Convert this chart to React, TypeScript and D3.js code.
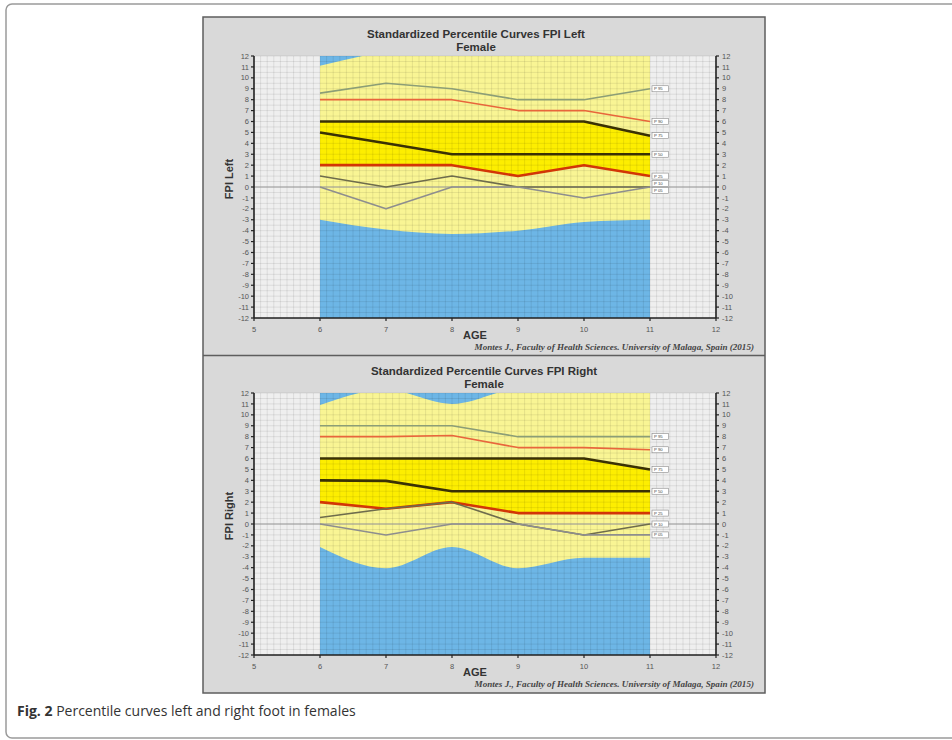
import React from 'react';
import * as d3 from 'd3';

// ages with measured percentiles
const ages = [6, 7, 8, 9, 10, 11];
const ageTicks = [5, 6, 7, 8, 9, 10, 11, 12];
const pctNames = ['P 95', 'P 90', 'P 75', 'P 50', 'P 25', 'P 10', 'P 05'];

// FPI Left, female
const leftP95 = [8.6, 9.5, 9, 8, 8, 9];
const leftP90 = [8, 8, 8, 7, 7, 6];
const leftP75 = [6, 6, 6, 6, 6, 4.7];
const leftP50 = [5, 4, 3, 3, 3, 3];
const leftP25 = [2, 2, 2, 1, 2, 1];
const leftP10 = [1, 0, 1, 0, 0, 0];
const leftP05 = [0, -2, 0, 0, -1, 0];
const leftUpper = [11.1, 12.4, 13, 13, 13, 13];
const leftLower = [-3, -3.9, -4.3, -4, -3.2, -3];

// FPI Right, female
const rightP95 = [9, 9, 9, 8, 8, 8];
const rightP90 = [8, 8, 8.1, 7, 7, 6.8];
const rightP75 = [6, 6, 6, 6, 6, 5];
const rightP50 = [4, 3.95, 3, 3, 3, 3];
const rightP25 = [2, 1.4, 2, 1, 1, 1];
const rightP10 = [0.6, 1.4, 2, 0, -1, 0];
const rightP05 = [0, -1, 0, 0, -1, -1];
const rightUpper = [10.9, 12.3, 11, 12.4, 12.6, 12.6];
const rightLower = [-2.1, -4.05, -2.1, -4.05, -3.1, -3.1];

const pctColors = ['#8c9e76', '#e8663c', '#3a3104', '#3a3104', '#d23606', '#6e6c4c', '#8e8e8e'];
const pctWidths = [1.6, 1.6, 2.6, 2.6, 2.6, 1.6, 1.6];

const x = d3.scaleLinear().domain([5, 12]).range([254, 716]);

function Panel({ top, title, titleX, yLabel, series, upper, lower }) {
  const y = d3.scaleLinear().domain([-12, 12]).range([top + 262, top]);
  const yTicks = y.ticks(24);
  const clipId = 'clip' + top;

  const line = d3.line<number>().x((d, i) => x(ages[i])).y(d => y(d));
  const band = d3.area<number>()
    .x((d, i) => x(ages[i]))
    .y0((d, i) => y(lower[i]))
    .y1((d, i) => y(upper[i]))
    .curve(d3.curveMonotoneX);
  const core = d3.area<number>()
    .x((d, i) => x(ages[i]))
    .y0((d, i) => y(series[4][i]))
    .y1((d, i) => y(series[2][i]));

  // label positions at the right end, pushed apart when they collide
  const labels = series.map((s, i) => ({ name: pctNames[i], y: y(s[s.length - 1]) }));
  const sorted = [...labels].sort((a, b) => a.y - b.y);
  const gap = 6.8;
  for (let k = 0; k < 60; k++) {
    for (let i = 1; i < sorted.length; i++) {
      const d = sorted[i].y - sorted[i - 1].y;
      if (d < gap) {
        const m = (gap - d) / 2;
        sorted[i].y += m;
        sorted[i - 1].y -= m;
      }
    }
  }

  const vGrid = d3.range(50, 121).map(v => v / 10);
  const hGrid = d3.range(-24, 25).map(v => v / 2);
  const x0 = x(5), x1 = x(12), yTop = y(12), yBot = y(-12);

  return (
    <g>
      <text x={titleX} y={top - 18} textAnchor="middle" fontFamily="Liberation Sans, Arial" fontWeight="bold" fontSize={11.5} fill="#333">{title}</text>
      <text x={titleX} y={top - 5} textAnchor="middle" fontFamily="Liberation Sans, Arial" fontWeight="bold" fontSize={11.5} fill="#333">Female</text>

      <clipPath id={clipId}>
        <rect x={x0} y={yTop} width={x1 - x0} height={yBot - yTop} />
      </clipPath>

      <rect x={x0} y={yTop} width={x1 - x0} height={yBot - yTop} fill="#efefef" />
      <rect x={x(6)} y={yTop} width={x(11) - x(6)} height={yBot - yTop} fill="#6db6e6" />
      <g clipPath={`url(#${clipId})`}>
        <path d={band(ages) || ''} fill="#f9f594" />
        <path d={core(ages) || ''} fill="#fdee00" />
      </g>

      <g stroke="#000" strokeOpacity={0.14} strokeWidth={0.6}>
        {vGrid.map(v => <line key={'v' + v} x1={x(v)} x2={x(v)} y1={yTop} y2={yBot} />)}
        {hGrid.map(v => <line key={'h' + v} x1={x0} x2={x1} y1={y(v)} y2={y(v)} />)}
      </g>
      <line x1={x0} x2={x1} y1={y(0)} y2={y(0)} stroke="#9a9a9a" strokeWidth={1} />

      {series.map((s, i) => (
        <path key={i} d={line(s) || ''} fill="none" stroke={pctColors[i]} strokeWidth={pctWidths[i]} strokeLinejoin="round" />
      ))}

      {labels.map(l => (
        <g key={l.name}>
          <rect x={x(11) + 2} y={l.y - 3} width={16.5} height={6} fill="#fff" stroke="#8a8a8a" strokeWidth={0.6} />
          <text x={x(11) + 4} y={l.y + 1.5} fontFamily="Liberation Sans, Arial" fontSize={4.3} fill="#444">{l.name}</text>
        </g>
      ))}

      {/* axes */}
      <g fontFamily="Liberation Sans, Arial" fontSize={7.5} fill="#555">
        <line x1={x0} x2={x0} y1={yTop} y2={yBot} stroke="#222" strokeWidth={1.6} />
        <line x1={x1} x2={x1} y1={yTop} y2={yBot} stroke="#222" strokeWidth={1.6} />
        <line x1={x0} x2={x1} y1={yBot} y2={yBot} stroke="#222" strokeWidth={1.6} />
        {yTicks.map(t => (
          <g key={'yt' + t}>
            <line x1={x0 - 3} x2={x0} y1={y(t)} y2={y(t)} stroke="#222" strokeWidth={1.2} />
            <text x={x0 - 5} y={y(t) + 2.6} textAnchor="end">{t}</text>
            <line x1={x1} x2={x1 + 3} y1={y(t)} y2={y(t)} stroke="#222" strokeWidth={1.2} />
            <text x={x1 + 6} y={y(t) + 2.6}>{t}</text>
          </g>
        ))}
        {ageTicks.map(t => (
          <g key={'xt' + t}>
            <line x1={x(t)} x2={x(t)} y1={yBot} y2={yBot + 3} stroke="#222" strokeWidth={1.2} />
            <text x={x(t)} y={yBot + 14} textAnchor="middle">{t}</text>
          </g>
        ))}
      </g>

      <text transform={`translate(233,${y(0) - 8}) rotate(-90)`} textAnchor="middle" fontFamily="Liberation Sans, Arial" fontWeight="bold" fontSize={11} fill="#333">{yLabel}</text>
      <text x={475} y={top + 283} textAnchor="middle" fontFamily="Liberation Sans, Arial" fontWeight="bold" fontSize={11} fill="#333">AGE</text>
      <text x={754} y={top + 294} textAnchor="end" fontFamily="Liberation Serif, Times New Roman" fontStyle="italic" fontWeight="bold" fontSize={9.1} fill="#444">Montes J., Faculty of Health Sciences. University of Malaga, Spain (2015)</text>
    </g>
  );
}

export default function App() {
  const leftSeries = [leftP95, leftP90, leftP75, leftP50, leftP25, leftP10, leftP05];
  const rightSeries = [rightP95, rightP90, rightP75, rightP50, rightP25, rightP10, rightP05];
  return (
    <svg width={952} height={740} style={{ position: 'absolute', left: 0, top: 0 }}>
      <rect x={0} y={0} width={952} height={740} fill="#fff" />
      <rect x={6} y={4} width={980} height={734} rx={6} fill="#fff" stroke="#9a9a9a" strokeWidth={1.5} />

      <rect x={203} y={17} width={562} height={676} fill="#d9d9d9" stroke="#5e5e5e" strokeWidth={1.5} />
      <line x1={203} x2={765} y1={355.5} y2={355.5} stroke="#5e5e5e" strokeWidth={1.5} />

      <Panel top={56} title="Standardized Percentile Curves FPI Left" titleX={476} yLabel="FPI Left"
        series={leftSeries} upper={leftUpper} lower={leftLower} />
      <Panel top={393} title="Standardized Percentile Curves FPI Right" titleX={484} yLabel="FPI Right"
        series={rightSeries} upper={rightUpper} lower={rightLower} />

      <text x={17} y={716} fontFamily="Open Sans, Noto Sans" fontSize={14} fill="#333">
        <tspan fontWeight="bold">Fig. 2</tspan> Percentile curves left and right foot in females
      </text>
    </svg>
  );
}
